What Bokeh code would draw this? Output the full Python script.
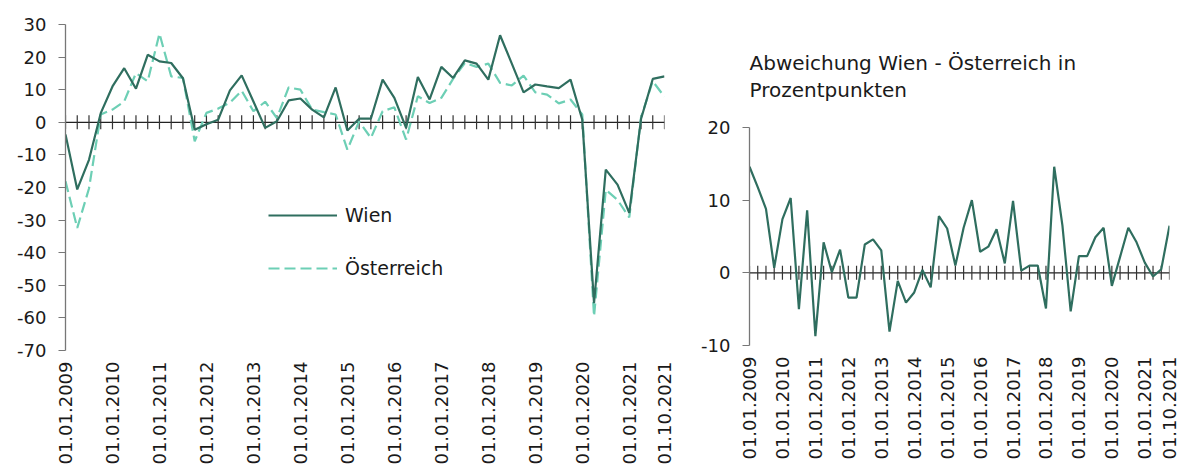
import math
from bokeh.plotting import figure
from bokeh.models import FixedTicker, Range1d
from bokeh.layouts import row, column
from bokeh.embed import file_html
from bokeh.resources import INLINE

# ---------------- data ----------------
years = list(range(2009, 2022))
quarters = [f"01.{m:02d}.{y}" for y in years for m in (1, 4, 7, 10)]
label_positions = [i for i, q in enumerate(quarters) if q.startswith("01.01.")] + [len(quarters) - 1]

wien = [-3.7, -20.6, -11.5, 2.8, 11.0, 16.6, 10.3, 20.7, 18.7, 18.2, 13.5, -2.3, -0.6, 0.8,
        9.8, 14.4, 6.4, -1.7, 0.3, 6.7, 7.3, 3.9, 1.5, 10.7, -2.5, 1.1, 1.1, 13.1, 7.5, -1.7,
        13.9, 7.0, 17.0, 13.6, 19.0, 18.0, 13.1, 26.7, 18.0, 9.2, 11.6, 11.0, 10.5, 13.1, 0.8,
        -55.5, -14.5, -19.1, -27.8, 1.0, 13.3, 14.1]

oesterreich = [-18.1, -32.4, -20.3, 2.4, 3.9, 6.4, 15.1, 12.6, 27.2, 14.1, 13.6, -5.8, 2.9, 4.2,
               6.0, 9.7, 3.4, 6.3, 1.3, 10.7, 10.0, 3.9, 3.1, 2.4, -8.4, 0.3, -4.8, 3.4, 4.6, -5.3,
               8.0, 5.9, 7.5, 13.3, 18.2, 17.0, 18.0, 12.1, 11.3, 14.3, 9.2, 8.5, 5.8, 7.0, 2.4,
               -59.5, -20.7, -23.8, -29.2, 1.5, 12.6, 7.8]

abweichung = [14.6, 11.8, 8.8, 0.7, 7.4, 10.3, -5.0, 8.6, -8.7, 4.2,
              0.1, 3.2, -3.4, -3.4, 3.9, 4.6, 3.1, -8.1, -1.1, -4.1,
              -2.7, 0.4, -2.0, 7.8, 6.1, 1.0, 6.2, 10.0, 2.9, 3.6,
              6.0, 1.3, 9.9, 0.3, 1.0, 1.0, -4.9, 14.6, 6.5, -5.3,
              2.3, 2.3, 4.9, 6.2, -1.8, 2.2, 6.2, 4.2, 1.4, -0.5,
              0.5, 6.5]

left_yticks = [-70, -60, -50, -40, -30, -20, -10, 0, 10, 20, 30]
right_yticks = [-10, 0, 10, 20]

# ---------------- style ----------------
FONT = "DejaVu Sans"
TEXT = "#1a1a1a"
DARK = "#2f6e5f"
LIGHT = "#6dcfb5"
AXIS = "#777777"

x = list(range(len(quarters)))
zeros = [0] * len(quarters)


def style(p, yticks):
    p.grid.visible = False
    p.outline_line_color = None
    p.background_fill_color = None
    p.border_fill_color = None
    xa = p.xaxis[0]
    xa.ticker = FixedTicker(ticks=label_positions)
    xa.major_label_overrides = {i: quarters[i] for i in label_positions}
    xa.major_label_orientation = math.pi / 2
    xa.axis_line_color = None
    xa.major_tick_line_color = None
    xa.minor_tick_line_color = None
    xa.major_label_standoff = 5
    xa.major_label_text_font = FONT
    xa.major_label_text_font_size = "18px"
    xa.major_label_text_color = TEXT
    ya = p.yaxis[0]
    ya.ticker = FixedTicker(ticks=yticks)
    ya.major_label_overrides = {v: str(v) for v in yticks}
    ya.axis_line_color = AXIS
    ya.axis_line_width = 1.3
    ya.major_tick_line_color = AXIS
    ya.major_tick_in = 0
    ya.major_tick_out = 7
    ya.minor_tick_line_color = None
    ya.major_label_standoff = 12
    ya.major_label_text_font = FONT
    ya.major_label_text_font_size = "18px"
    ya.major_label_text_color = TEXT
    # zero line with a tick for every quarter
    p.line(x, zeros, line_color="#222222", line_width=1.3)
    p.scatter(x, zeros, marker="dash", angle=math.pi / 2, size=14,
              line_color="#333333", line_width=1.2)


# ---------------- left chart ----------------
p1 = figure(width=690, height=468, output_backend="svg", toolbar_location=None,
            x_range=Range1d(0, len(quarters) - 1), y_range=Range1d(-70, 30),
            min_border_left=65, min_border_right=26, min_border_top=24, min_border_bottom=118)
style(p1, left_yticks)
p1.line(x, oesterreich, line_color=LIGHT, line_width=2.2, line_dash="11 5",
        legend_label="Österreich")
p1.line(x, wien, line_color=DARK, line_width=2.2, legend_label="Wien")

lg = p1.legend[0]
items = list(lg.items)
lg.items = [items[1], items[0]]
lg.location = (203, 71)
lg.padding = 0
lg.margin = 0
lg.border_line_color = None
lg.background_fill_alpha = 0
lg.glyph_width = 69
lg.glyph_height = 20
lg.label_height = 20
lg.spacing = 31
lg.label_standoff = 8
lg.label_text_font = FONT
lg.label_text_font_size = "19px"
lg.label_text_color = TEXT

# ---------------- right chart ----------------
p2 = figure(width=490, height=468, output_backend="svg", toolbar_location=None,
            x_range=Range1d(0, len(quarters) - 1), y_range=Range1d(-10, 20),
            min_border_left=59, min_border_right=11, min_border_top=127, min_border_bottom=123,
            title="Abweichung Wien - Österreich in\nProzentpunkten")
style(p2, right_yticks)
p2.title.align = "left"
p2.title.text_font = FONT
p2.title.text_font_size = "20px"
p2.title.text_font_style = "normal"
p2.title.text_line_height = 1.12
p2.title.text_color = TEXT
p2.title.standoff = 51
p2.line(x, abweichung, line_color=DARK, line_width=2.2)

layout = row(column(p1), column(p2))
open("out.html", "w").write(file_html(layout, INLINE))
